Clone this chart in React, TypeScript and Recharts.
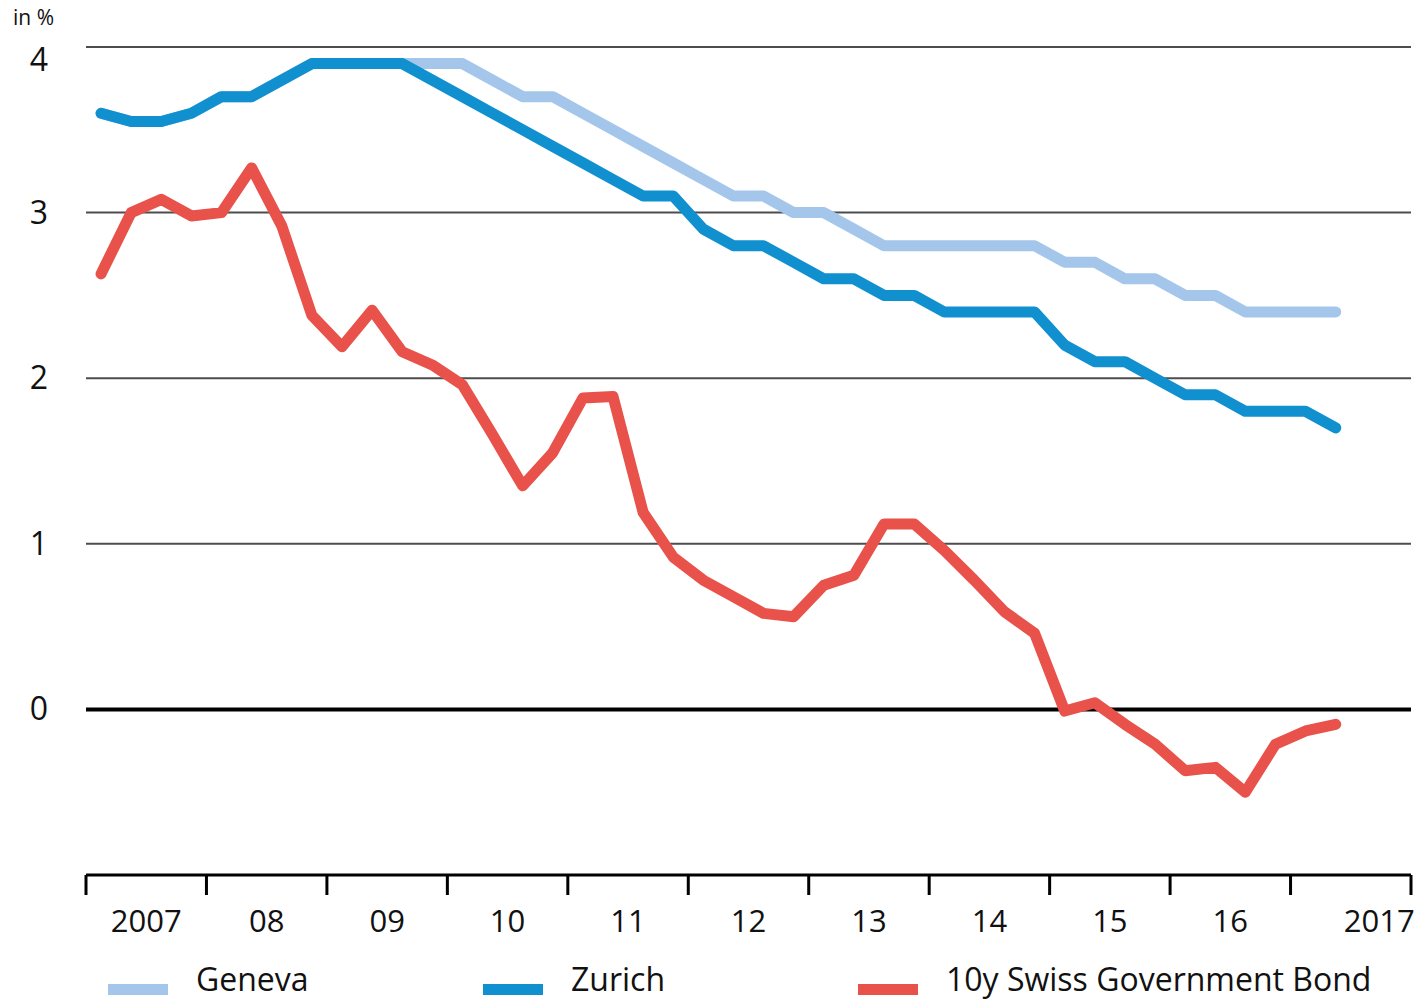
import { LineChart, Line, XAxis, YAxis, CartesianGrid, ReferenceLine } from "recharts";

// quarterly observations, 2007 Q1 – 2017 Q2
const years = [2007, 2008, 2009, 2010, 2011, 2012, 2013, 2014, 2015, 2016, 2017];
const quarters = years.flatMap((y) => [1, 2, 3, 4].map((q) => `${y} Q${q}`)).slice(0, 42);

const geneva = [
  3.6, 3.55, 3.55, 3.6, 3.7, 3.7, 3.8, 3.9, 3.9, 3.9, 3.9, 3.9, 3.9, 3.8, 3.7, 3.7,
  3.6, 3.5, 3.4, 3.3, 3.2, 3.1, 3.1, 3.0, 3.0, 2.9, 2.8, 2.8, 2.8, 2.8, 2.8, 2.8,
  2.7, 2.7, 2.6, 2.6, 2.5, 2.5, 2.4, 2.4, 2.4, 2.4,
];
const zurich = [
  3.6, 3.55, 3.55, 3.6, 3.7, 3.7, 3.8, 3.9, 3.9, 3.9, 3.9, 3.8, 3.7, 3.6, 3.5, 3.4,
  3.3, 3.2, 3.1, 3.1, 2.9, 2.8, 2.8, 2.7, 2.6, 2.6, 2.5, 2.5, 2.4, 2.4, 2.4, 2.4,
  2.2, 2.1, 2.1, 2.0, 1.9, 1.9, 1.8, 1.8, 1.8, 1.7,
];
const bond = [
  2.63, 3.0, 3.08, 2.98, 3.0, 3.27, 2.92, 2.38, 2.19, 2.41, 2.16, 2.08, 1.96, 1.66, 1.35, 1.55,
  1.88, 1.89, 1.19, 0.92, 0.78, 0.68, 0.58, 0.56, 0.75, 0.81, 1.12, 1.12, 0.96, 0.78, 0.59, 0.46,
  -0.01, 0.04, -0.09, -0.21, -0.37, -0.35, -0.5, -0.21, -0.13, -0.09,
];

const yearLabels = ["2007", "08", "09", "10", "11", "12", "13", "14", "15", "16", "2017"];
const yTicks = [0, 1, 2, 3, 4];
const xTicks = Array.from({ length: 23 }, (_, i) => i * 2);

const GENEVA = "#a3c6ea";
const ZURICH = "#1190d0";
const BOND = "#e8524a";
const FONT = "'Open Sans', sans-serif";

const chartData = quarters.map((q, i) => ({
  quarter: q,
  t: i + 0.5,
  geneva: geneva[i],
  zurich: zurich[i],
  bond: bond[i],
}));

const legend = [
  { name: "Geneva", color: GENEVA },
  { name: "Zurich", color: ZURICH },
  { name: "10y Swiss Government Bond", color: BOND },
];

function XTick(props: any) {
  const { x, y, payload } = props;
  const v = payload.value as number;
  if (v % 4 === 0) {
    return <line x1={x} x2={x} y1={y} y2={y + 20} stroke="#000" strokeWidth={3} />;
  }
  const idx = (v - 2) / 4;
  const last = idx === yearLabels.length - 1;
  return (
    <text
      x={last ? x + 64 : x}
      y={y + 57}
      textAnchor={last ? "end" : "middle"}
      fontSize={31}
      fontFamily={FONT}
      fill="#111"
    >
      {yearLabels[idx]}
    </text>
  );
}

function YTick(props: any) {
  const { y, payload } = props;
  const top = payload.value === 4;
  return (
    <text
      x={39}
      y={y + (top ? 13 : 0)}
      dy={11}
      textAnchor="middle"
      fontSize={32}
      fontFamily={FONT}
      fill="#111"
    >
      {payload.value}
    </text>
  );
}

export default function App() {
  return (
    <div style={{ position: "absolute", left: 0, top: 0, width: 1422, height: 1003, background: "#fff" }}>
      <div
        style={{
          position: "absolute",
          left: 13,
          top: 3,
          fontFamily: FONT,
          fontSize: 21,
          color: "#111",
        }}
      >
        in %
      </div>
      <LineChart
        width={1422}
        height={1003}
        data={chartData}
        margin={{ top: 47, right: 11, bottom: 0, left: 0 }}
      >
        <CartesianGrid horizontal vertical={false} stroke="#4d4d4d" strokeWidth={2} />
        <XAxis
          dataKey="t"
          type="number"
          domain={[0, 44]}
          ticks={xTicks}
          interval={0}
          height={128}
          tickSize={0}
          tickMargin={0}
          tickLine={false}
          axisLine={{ stroke: "#000", strokeWidth: 3 }}
          tick={<XTick />}
        />
        <YAxis
          type="number"
          domain={[-1, 4]}
          ticks={yTicks}
          interval={0}
          width={86}
          axisLine={false}
          tickLine={false}
          tick={<YTick />}
        />
        <ReferenceLine y={0} stroke="#000" strokeWidth={4} />
        <Line
          type="linear"
          dataKey="geneva"
          stroke={GENEVA}
          strokeWidth={11}
          strokeLinecap="round"
          strokeLinejoin="round"
          dot={false}
          isAnimationActive={false}
        />
        <Line
          type="linear"
          dataKey="zurich"
          stroke={ZURICH}
          strokeWidth={11}
          strokeLinecap="round"
          strokeLinejoin="round"
          dot={false}
          isAnimationActive={false}
        />
        <Line
          type="linear"
          dataKey="bond"
          stroke={BOND}
          strokeWidth={11}
          strokeLinecap="round"
          strokeLinejoin="round"
          dot={false}
          isAnimationActive={false}
        />
      </LineChart>
      <div
        style={{
          position: "absolute",
          left: 108,
          top: 961,
          width: 1300,
          display: "flex",
          fontFamily: FONT,
          fontSize: 32,
          lineHeight: "36px",
          color: "#111",
          whiteSpace: "nowrap",
        }}
      >
        {legend.map((item) => (
          <div key={item.name} style={{ flex: "0 0 auto", width: 375, display: "flex", alignItems: "center" }}>
            <span
              style={{
                flex: "0 0 auto",
                width: 60,
                height: 11,
                background: item.color,
                marginRight: 28,
                transform: "translateY(10px)",
              }}
            />
            <span>{item.name}</span>
          </div>
        ))}
      </div>
    </div>
  );
}
